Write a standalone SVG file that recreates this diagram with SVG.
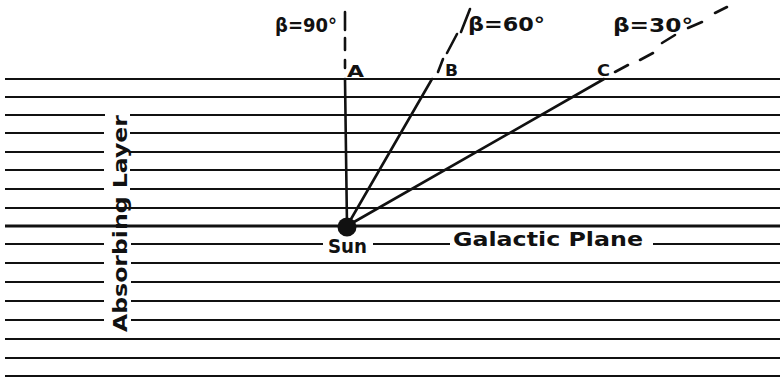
<svg xmlns="http://www.w3.org/2000/svg" width="780" height="377" viewBox="0 0 780 377">
<style>
.h{stroke:#111;stroke-width:2;fill:none}
.gp{stroke:#111;stroke-width:3;fill:none}
.ray{stroke:#111;stroke-width:2.6;fill:none;stroke-linecap:round}
.dash{stroke:#111;stroke-width:2.6;fill:none;stroke-linecap:round}
.t{font-family:"DejaVu Sans","Liberation Sans",sans-serif;font-weight:bold;fill:#111}
</style>
<rect width="780" height="377" fill="#fff"/>
<g id="layers">
<path class="h" d="M5 79H780 M5 97H780 M5 115H105 M130 115H780 M5 133H104 M130 133H780 M5 152H104 M130 152H780 M5 170H104 M130 170H780 M5 189H104 M130 189H780 M5 208H780 M5 244H104 M131 244H323 M373 244H450 M653 244H780 M5 263H104 M131 263H780 M5 282H104 M131 282H780 M5 301H104 M131 301H780 M5 320H104 M131 320H780 M5 339H780 M5 358H780 M5 376H780"/>
<path class="gp" d="M5 226H780"/>
</g>
<g id="connectors">
<path class="ray" d="M345 79L347 226 M432 79L347 226 M604 79L347 226"/>
<path class="dash" d="M345 12V30 M345 38V50 M345 60V68"/>
<path class="dash" d="M438 72L443 59 M447 53L457 34 M461 32L470 9"/>
<path class="dash" d="M615 72L628 65 M640 60L653 53 M662 43L675 35 M688 28L702 22 M715 13L727 7"/>
</g>
<g id="sun">
<circle cx="347" cy="227" r="9.5" fill="#111"/>
<text class="t" x="328" y="253" font-size="20" textLength="39" lengthAdjust="spacingAndGlyphs">Sun</text>
</g>
<g id="galactic-plane">
<text class="t" x="453" y="246" font-size="20" textLength="190" lengthAdjust="spacingAndGlyphs">Galactic Plane</text>
</g>
<g id="absorbing-layer">
<text class="t" transform="translate(127,332) rotate(-90)" font-size="20" textLength="217" lengthAdjust="spacingAndGlyphs">Absorbing Layer</text>
</g>
<g id="label-a">
<text class="t" x="347" y="77" font-size="16" textLength="17" lengthAdjust="spacingAndGlyphs">A</text>
<text class="t" x="275" y="32" font-size="20" textLength="62" lengthAdjust="spacingAndGlyphs">β=90°</text>
</g>
<g id="label-b">
<text class="t" x="445" y="76" font-size="16" textLength="13" lengthAdjust="spacingAndGlyphs">B</text>
<text class="t" x="468" y="31" font-size="20" textLength="77" lengthAdjust="spacingAndGlyphs">β=60°</text>
</g>
<g id="label-c">
<text class="t" x="597" y="76" font-size="16" textLength="13" lengthAdjust="spacingAndGlyphs">C</text>
<text class="t" x="613" y="32" font-size="20" textLength="80" lengthAdjust="spacingAndGlyphs">β=30°</text>
</g>
</svg>
